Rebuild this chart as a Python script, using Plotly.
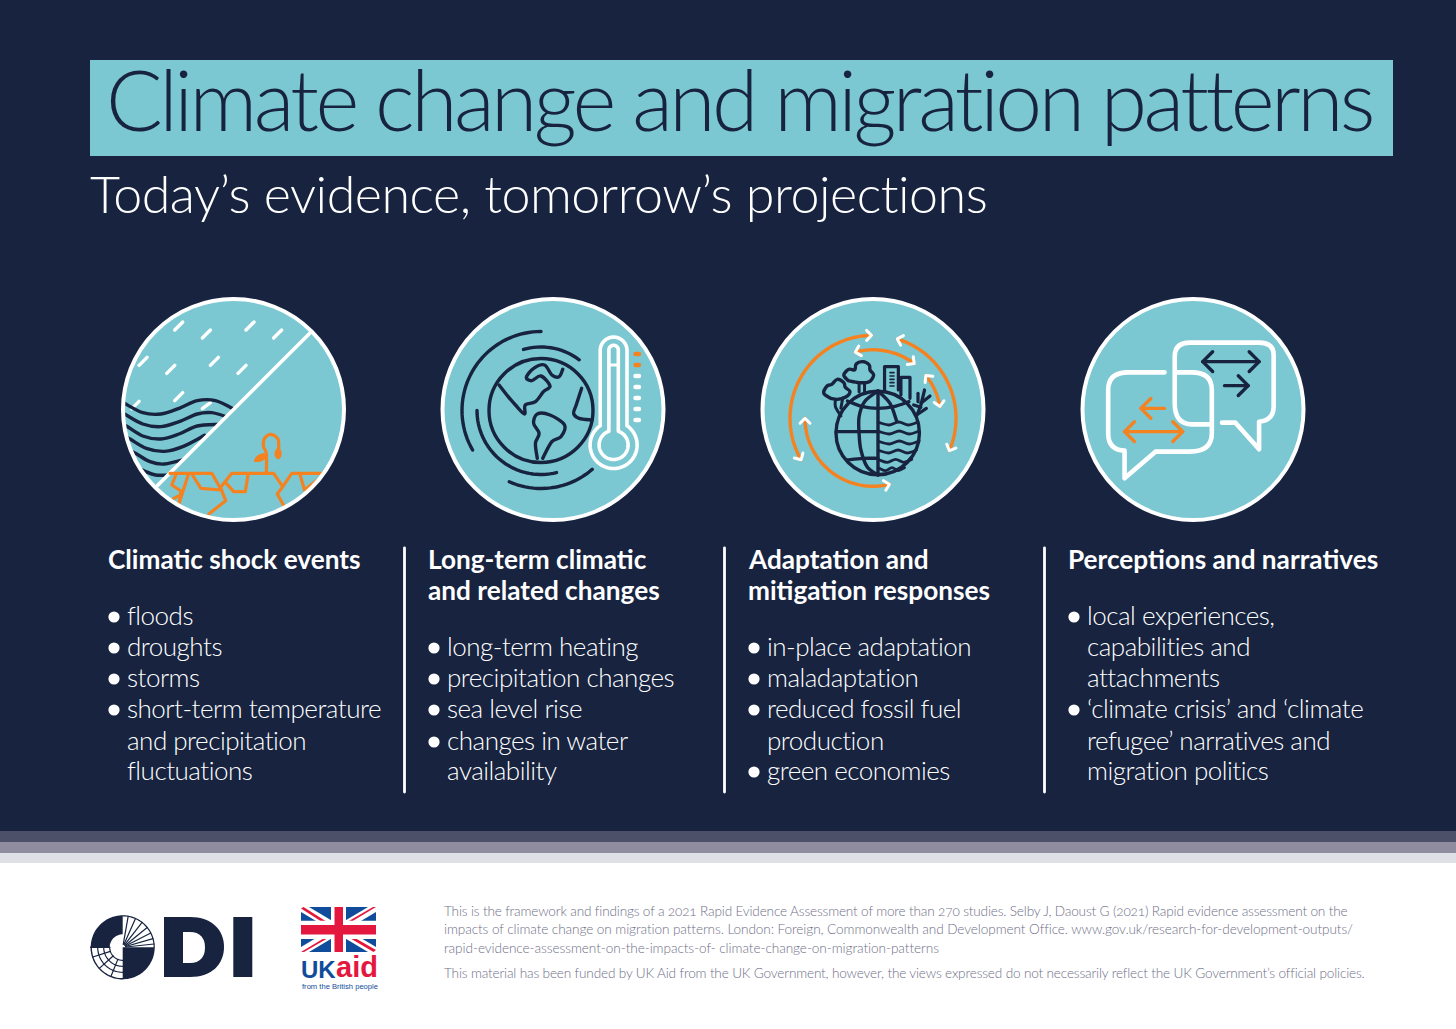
import math
import re

import plotly.graph_objects as go

# Text content
TITLE = "Climate change and migration patterns"
SUBTITLE = "Today’s evidence, tomorrow’s projections"

HEADINGS = [
    ["Climatic shock events"],
    ["Long-term climatic", "and related changes"],
    ["Adaptation and", "mitigation responses"],
    ["Perceptions and narratives"],
]
COLUMN_1 = [["floods"], ["droughts"], ["storms"],
            ["short-term temperature", "and precipitation", "fluctuations"]]
COLUMN_2 = [["long-term heating"], ["precipitation changes"], ["sea level rise"],
            ["changes in water", "availability"]]
COLUMN_3 = [["in-place adaptation"], ["maladaptation"],
            ["reduced fossil fuel", "production"], ["green economies"]]
COLUMN_4 = [["local experiences,", "capabilities and", "attachments"],
            ["‘climate crisis’ and ‘climate", "refugee’ narratives and", "migration politics"]]

FOOTER_LINES = [
    "This is the framework and findings of a 2021 Rapid Evidence Assessment of more than 270 studies. Selby J, Daoust G (2021) Rapid evidence assessment on the",
    "impacts of climate change on migration patterns. London: Foreign, Commonwealth and Development Office. www.gov.uk/research-for-development-outputs/",
    "rapid-evidence-assessment-on-the-impacts-of- climate-change-on-migration-patterns",
    "This material has been funded by UK Aid from the UK Government, however, the views expressed do not necessarily reflect the UK Government’s official policies.",
]

# Colours
NAVY = "#17233f"
TEAL = "#7bc8d2"
ORANGE = "#f58220"
WHITE = "#ffffff"
BANDS = ["#4c5069", "#8e8c9e", "#dfdfe6"]
FOOT_GREY = "#6f7088"
UK_BLUE = "#0f4c9b"
UK_RED = "#e4173e"

FONT = "Lato"
BASE_1 = (110, 290)
BASE_2 = (750, 290)

shapes = []
notes = []


def add_text(x, y, s, size, color, weight=300, family=FONT, anchor="left"):
    notes.append(dict(x=x, y=y, text=s, showarrow=False, xanchor=anchor, yanchor="middle",
                      borderpad=0, font=dict(family=family, size=size, color=color, weight=weight)))


def rect(x0, y0, x1, y1, color):
    shapes.append(dict(type="rect", x0=x0, y0=y0, x1=x1, y1=y1, fillcolor=color, line_width=0))


def circle(cx, cy, r, fill=None, line=None, width=0):
    shapes.append(dict(type="circle", x0=cx - r, y0=cy - r, x1=cx + r, y1=cy + r,
                       fillcolor=fill or "rgba(0,0,0,0)", line=dict(color=line or "rgba(0,0,0,0)", width=width)))


def stroke(path, color, width=3.4, fill=None):
    shapes.append(dict(type="path", path=path, fillcolor=fill or "rgba(0,0,0,0)",
                       line=dict(color=color, width=width)))


def solid(path, color):
    shapes.append(dict(type="path", path=path, fillcolor=color, line_width=0))


def to_real(p, base):
    return p[0] / 2.75 + base[0], p[1] / 3 + base[1]


def zp(spec, base):
    # path written in the coordinates of the zoomed crops
    parts = re.findall(r"[A-Z]|-?[\d.]+", spec)
    out, nums = [], []
    for tok in parts:
        if tok.isalpha():
            out.append(tok)
        else:
            nums.append(float(tok))
            if len(nums) == 2:
                x, y = to_real(nums, base)
                out.append(f"{x:.2f} {y:.2f}")
                nums = []
    return " ".join(out)


def poly(pts, base):
    pts = [to_real(p, base) for p in pts]
    return "M " + " L ".join(f"{x:.2f} {y:.2f}" for x, y in pts)


def curve(pts, base):
    pts = [to_real(p, base) for p in pts]
    d = f"M {pts[0][0]:.2f} {pts[0][1]:.2f}"
    for i in range(len(pts) - 1):
        p0 = pts[max(i - 1, 0)]
        p1, p2 = pts[i], pts[i + 1]
        p3 = pts[min(i + 2, len(pts) - 1)]
        c1 = (p1[0] + (p2[0] - p0[0]) / 6, p1[1] + (p2[1] - p0[1]) / 6)
        c2 = (p2[0] - (p3[0] - p1[0]) / 6, p2[1] - (p3[1] - p1[1]) / 6)
        d += f" C {c1[0]:.2f} {c1[1]:.2f} {c2[0]:.2f} {c2[1]:.2f} {p2[0]:.2f} {p2[1]:.2f}"
    return d


def arc_pts(cx, cy, r, a0, a1):
    n = max(int(abs(a1 - a0) / 3), 2)
    return [(cx + r * math.cos(math.radians(a0 + (a1 - a0) * i / n)),
             cy - r * math.sin(math.radians(a0 + (a1 - a0) * i / n))) for i in range(n + 1)]


def arc(cx, cy, r, a0, a1):
    return "M " + " L ".join(f"{x:.2f} {y:.2f}" for x, y in arc_pts(cx, cy, r, a0, a1))


def real_poly(pts, close=False):
    return "M " + " L ".join(f"{x:.2f} {y:.2f}" for x, y in pts) + (" Z" if close else "")


def chevron(x, y, dx, dy, size, color, width):
    norm = math.hypot(dx, dy)
    dx, dy = dx / norm, dy / norm
    pts = []
    for sign in (1, -1):
        c, s = math.cos(math.radians(135 * sign)), math.sin(math.radians(135 * sign))
        pts.append((x + size * (dx * c - dy * s), y + size * (dx * s + dy * c)))
    stroke(real_poly([pts[0], (x, y), pts[1]]), color, width)


def arc_arrow(cx, cy, r, a0, a1):
    stroke(arc(cx, cy, r, a0, a1), ORANGE, 3.4)
    for a, sign in ((a1, 1 if a1 > a0 else -1), (a0, -1 if a1 > a0 else 1)):
        rad = math.radians(a)
        chevron(cx + r * math.cos(rad), cy - r * math.sin(rad),
                -math.sin(rad) * sign, -math.cos(rad) * sign, 7, WHITE, 3)


def line_arrow(x0, x1, y, color, both, base):
    (a, yy), (b, _) = to_real((x0, y), base), to_real((x1, y), base)
    stroke(f"M {a:.2f} {yy:.2f} L {b:.2f} {yy:.2f}", color, 3.4)
    chevron(b, yy, 1 if x1 > x0 else -1, 0, 14, color, 3.4)
    if both:
        chevron(a, yy, -1 if x1 > x0 else 1, 0, 14, color, 3.4)


# Page background
rect(0, 0, 1456, 1029, WHITE)
rect(0, 0, 1456, 831, NAVY)
rect(0, 831, 1456, 842, BANDS[0])
rect(0, 842, 1456, 853, BANDS[1])
rect(0, 853, 1456, 863, BANDS[2])
rect(90, 60, 1393, 156, TEAL)

CENTERS = [233.5, 553, 873, 1193]
CY = 409.5
for cx in CENTERS:
    circle(cx, CY, 111, fill=TEAL)

# Icon 1: rain, flood and drought
for a, b in [((178, 120), (200, 96)), ((254, 144), (276, 120)), ((374, 120), (396, 96)),
             ((450, 144), (472, 120)), ((80, 226), (102, 202)), ((156, 250), (178, 226)),
             ((276, 226), (298, 202)), ((352, 250), (374, 226)), ((178, 332), (200, 308)),
             ((60, 356), (80, 334)), ((254, 356), (276, 338))]:
    stroke(poly([a, b], BASE_1), WHITE, 3.4)
for wave in [[(20, 325), (40, 340), (90, 368), (140, 372), (190, 355), (240, 332), (290, 332), (345, 360)],
             [(20, 360), (40, 372), (90, 402), (140, 410), (190, 395), (240, 372), (280, 368), (325, 382)],
             [(20, 395), (45, 408), (90, 438), (140, 447), (190, 432), (240, 408), (300, 403)],
             [(30, 432), (55, 447), (100, 475), (150, 484), (200, 470), (260, 436)],
             [(40, 475), (70, 490), (110, 515), (150, 522), (215, 505)],
             [(70, 530), (95, 543), (125, 555), (170, 555)]]:
    stroke(curve(wave, BASE_1), NAVY, 3.4)
half = arc_pts(CENTERS[0], CY, 110, 45, -135)
solid(real_poly(half, close=True), TEAL)
stroke(real_poly([half[0], half[-1]]), WHITE, 3.6)
for crack in [[(165, 550), (280, 550), (305, 598)],
              [(225, 552), (250, 595), (305, 600)],
              [(180, 558), (170, 585), (195, 603), (190, 640)],
              [(215, 555), (190, 640)],
              [(175, 625), (195, 615)],
              [(305, 595), (318, 632), (272, 672)],
              [(300, 598), (335, 550), (450, 550), (475, 590), (460, 612), (477, 645)],
              [(320, 580), (340, 605), (372, 605), (380, 552)],
              [(475, 590), (500, 550), (585, 550)],
              [(522, 552), (535, 600), (570, 570)]]:
    stroke(poly(crack, BASE_1), ORANGE, 3.2)
stroke(curve([(430, 548), (430, 490), (422, 470), (425, 445), (443, 433), (462, 448), (464, 478)], BASE_1), ORANGE, 3.2)
solid(zp("M 463 470 C 478 485 472 505 463 508 C 452 505 446 485 463 470 Z", BASE_1), ORANGE)
solid(zp("M 432 492 C 420 486 400 492 395 515 C 415 520 430 510 432 492 Z", BASE_1), ORANGE)

# Icon 2: globe and thermometer
gx, gy = 541, 410.5
circle(gx, gy, 52, line=NAVY, width=3.4)
stroke(arc(gx, gy, 79, 90, 210), NAVY)
stroke(arc(gx, gy, 63.5, 106, 53), NAVY)
stroke(arc(gx, gy, 64, 180, 284), NAVY)
stroke(arc(gx, gy, 78, 246, 311), NAVY)
for land in [[(1070, 285), (1095, 320), (1115, 345), (1140, 372), (1142, 345), (1170, 335), (1192, 305),
              (1210, 288), (1185, 258), (1160, 272), (1145, 262), (1165, 235), (1195, 225), (1215, 255),
              (1235, 260), (1245, 238)],
             [(1175, 505), (1170, 460), (1180, 430), (1165, 400), (1175, 372), (1210, 375), (1250, 405),
              (1240, 440), (1215, 455), (1190, 505)],
             [(1297, 295), (1282, 345), (1275, 370), (1290, 385), (1325, 390)]]:
    stroke(curve(land, BASE_1), NAVY)

tx, ty = 613.6, 445
outer = arc_pts(tx, 350.5, 13.4, 180, 0) + arc_pts(tx, ty, 23.5, 55.3, -235.3)
inner = arc_pts(tx, 350, 4.7, 180, 0) + arc_pts(tx, ty, 14.5, 71, -251)
stroke(real_poly(outer, close=True), WHITE, 3.6)
stroke(real_poly(inner, close=True), WHITE, 3.6)
stroke(f"M {tx - 4.7} 365 L {tx + 4.7} 365", WHITE, 2.8)
for i, tick_y in enumerate([354, 365, 376, 387, 398, 409, 420]):
    stroke(f"M 635.5 {tick_y} L 639 {tick_y}", ORANGE if i < 2 else WHITE, 4.4)

# Icon 3: cycle of arrows around a globe
ax, ay = 873, 418.3
arc_arrow(ax, ay, 83, 91, 210)
arc_arrow(ax, ay, 83, 73, -23)
arc_arrow(ax, ay, 68, 180, 284)
arc_arrow(ax, ay, 68.5, 105, 53)
arc_arrow(ax, ay, 68, 39, 10)

circle(877.7, 433, 41.7, line=NAVY, width=3.4)
stroke(poly([(352, 303), (352, 555)], BASE_2), NAVY)
stroke(poly([(237, 425), (352, 425)], BASE_2), NAVY)
stroke(curve([(268, 333), (310, 350), (352, 355), (395, 350), (437, 335)], BASE_2), NAVY)
stroke(curve([(268, 510), (310, 505), (352, 505)], BASE_2), NAVY)
stroke(curve([(352, 303), (315, 335), (300, 380), (300, 430), (305, 480), (322, 530), (352, 555)], BASE_2), NAVY)
stroke(curve([(352, 303), (385, 340), (403, 392)], BASE_2), NAVY)
for wy, x_end in zip([398, 425, 455, 482, 510, 535], [462, 465, 465, 458, 445, 425]):
    step = (x_end - 356) / 4
    stroke(curve([(356, wy), (356 + step, wy + 7), (356 + 2 * step, wy - 2),
                  (356 + 3 * step, wy + 7), (x_end, wy - 2)], BASE_2), NAVY, 2.8)
stroke(curve([(222, 325), (203, 310), (212, 288), (225, 283), (240, 268), (258, 278), (262, 292),
              (275, 305), (262, 322), (240, 328), (222, 325)], BASE_2), NAVY)
stroke(curve([(235, 328), (235, 350), (250, 378)], BASE_2), NAVY, 3)
stroke(poly([(255, 324), (250, 355)], BASE_2), NAVY, 3)
stroke(curve([(270, 272), (258, 255), (272, 238), (288, 240), (292, 222), (310, 215), (328, 225),
              (330, 240), (340, 255), (328, 275), (300, 278), (270, 272)], BASE_2), NAVY)
stroke(poly([(300, 278), (300, 305)], BASE_2), NAVY, 3)
stroke(poly([(315, 278), (315, 310)], BASE_2), NAVY, 3)
stroke(poly([(370, 300), (370, 230), (408, 230), (408, 300)], BASE_2), NAVY, 3.2)
stroke(poly([(415, 315), (415, 262), (440, 262), (440, 325)], BASE_2), NAVY, 3.2)
for by in [248, 258, 268, 278, 288]:
    stroke(poly([(385, by), (396, by)], BASE_2), NAVY, 1.6)
stroke(poly([(458, 378), (470, 345), (480, 300)], BASE_2), NAVY, 3.2)
stroke(poly([(450, 345), (470, 352)], BASE_2), NAVY, 3.2)
stroke(poly([(470, 340), (495, 318)], BASE_2), NAVY, 3.2)
stroke(poly([(458, 375), (485, 355)], BASE_2), NAVY, 3.2)
stroke(poly([(462, 310), (462, 335)], BASE_2), NAVY, 3.2)

# Icon 4: speech bubbles
stroke(zp("M 1140 247 L 1040 247 Q 985 247 985 300 L 985 430 Q 985 480 1030 482 L 1030 565 L 1115 485 "
          "L 1210 485 Q 1270 485 1270 430 L 1270 300 Q 1270 247 1215 247 L 1170 247", BASE_2), WHITE, 4.6)
stroke(zp("M 1298 398 L 1335 398 L 1400 478 L 1400 395 Q 1440 390 1440 350 L 1440 195 Q 1440 158 1400 158 "
          "L 1210 158 Q 1168 158 1168 200 L 1168 340 Q 1168 403 1215 403 L 1265 403", BASE_2), WHITE, 4.6)
line_arrow(1245, 1400, 215, NAVY, True, BASE_2)
line_arrow(1305, 1370, 287, NAVY, False, BASE_2)
line_arrow(1030, 1190, 425, ORANGE, True, BASE_2)
line_arrow(1140, 1075, 355, ORANGE, False, BASE_2)

# Mask anything past the circle edge, then the white ring
for cx in CENTERS:
    circle(cx, CY, 118, line=NAVY, width=12)
    circle(cx, CY, 110.5, line=WHITE, width=4)

# Dividers
for x in [404.5, 724.5, 1044.5]:
    shapes.append(dict(type="line", x0=x, x1=x, y0=548, y1=792, line=dict(color=WHITE, width=2.8)))

# Headings and bullet lists
add_text(105, 98, TITLE, 84, NAVY)
add_text(89, 193, SUBTITLE, 52, WHITE)

HEAD_Y = [559, 590]
ROW_Y = [615, 646, 677, 708, 740, 770]
COLUMN_X = [107, 427, 747, 1067]
for col_x, head, items in zip(COLUMN_X, HEADINGS, [COLUMN_1, COLUMN_2, COLUMN_3, COLUMN_4]):
    for y, line in zip(HEAD_Y, head):
        add_text(col_x, y, line, 26.2, WHITE, weight=700)
    row = len(head) - 1
    for item in items:
        circle(col_x + 7, ROW_Y[row] + 2, 5.6, fill=WHITE)
        for line in item:
            add_text(col_x + 19, ROW_Y[row], line, 26, WHITE)
            row += 1

# ODI logo
lx, ly = 122.7, 947.3
solid(real_poly(arc_pts(lx, ly, 32, 90, 180) + arc_pts(lx, ly, 13, 180, 90), close=True), NAVY)
solid(real_poly([(lx, ly)] + arc_pts(lx, ly, 32, 0, -90), close=True), NAVY)
stroke(arc(lx, ly, 31.5, 0, 90), NAVY, 1.2)
stroke(arc(lx, ly, 31.5, 180, 270), NAVY, 1.4)
for a in [6, 16, 27, 39, 52, 66, 80]:
    rad = math.radians(a)
    stroke(real_poly([(lx + 3 * math.cos(rad), ly - 3 * math.sin(rad)),
                      (lx + 31.5 * math.cos(rad), ly - 31.5 * math.sin(rad))]), NAVY, 1.2)
for r in [13, 19, 25]:
    stroke(arc(lx, ly, r, 180, 270), NAVY, 1.2)
for a in [198, 222, 248]:
    rad = math.radians(a)
    stroke(real_poly([(lx + 13 * math.cos(rad), ly - 13 * math.sin(rad)),
                      (lx + 31.5 * math.cos(rad), ly - 31.5 * math.sin(rad))]), NAVY, 1.2)
stroke(f"M {lx - 32} {ly} L {lx - 13} {ly}", NAVY, 1.4)
solid("M 164 917 L 190 917 C 212 917 224 930 224 947 C 224 964 212 977 190 977 L 164 977 Z", NAVY)
solid("M 183 932 L 190 932 C 200 932 205 938 205 947.5 C 205 957 200 963 190 963 L 183 963 Z", WHITE)
rect(233.3, 917, 252.3, 977, NAVY)

# UK aid flag
fx0, fy0, fx1, fy1 = 301, 907, 376, 952
rect(fx0, fy0, fx1, fy1, UK_BLUE)
for pts in [[(fx0, fy0), (fx0 + 8, fy0), (fx1, fy1 - 5), (fx1, fy1), (fx1 - 8, fy1), (fx0, fy0 + 5)],
            [(fx1, fy0), (fx1 - 8, fy0), (fx0, fy1 - 5), (fx0, fy1), (fx0 + 8, fy1), (fx1, fy0 + 5)]]:
    solid(real_poly(pts, close=True), WHITE)
for pts in [[(fx0, fy0 + 1.5), (fx0 + 2.5, fy0), (335, 927), (330, 927)],
            [(342, 925), (346, 925), (fx1, fy0), (fx1 - 3, fy0)],
            [(343, 934), (348, 934), (fx1, fy1 - 2), (fx1 - 2.5, fy1)],
            [(331, 934), (335, 934), (fx0 + 3, fy1), (fx0, fy1)]]:
    solid(real_poly(pts, close=True), UK_RED)
rect(331, fy0, 346, fy1, WHITE)
rect(fx0, 920.7, fx1, 939, WHITE)
rect(334.5, fy0, 343, fy1, UK_RED)
rect(fx0, 925, fx1, 934.5, UK_RED)
add_text(300, 969, "UK", 24, UK_BLUE, weight=700, family="Liberation Sans")
add_text(334.5, 967, "aid", 29, UK_RED, weight=700, family="Liberation Sans")
add_text(301, 986, "from the British people", 7.6, UK_BLUE, weight=400, family="Liberation Sans")

# Footer
for y, line in zip([910.5, 929, 947.5, 973], FOOTER_LINES):
    add_text(443, y, line, 13.6, FOOT_GREY)

fig = go.Figure()
fig.update_layout(
    width=1456, height=1029, margin=dict(l=0, r=0, t=0, b=0),
    paper_bgcolor=WHITE, plot_bgcolor=WHITE, showlegend=False,
    xaxis=dict(range=[0, 1456], visible=False, fixedrange=True),
    yaxis=dict(range=[1029, 0], visible=False, fixedrange=True),
    shapes=shapes, annotations=notes,
)

# Tracking per font size, the original face is set tighter than Lato.
# The texts are centred in their boxes, so move them back to the left edge.
POST = """
document.body.style.margin = '0';
document.querySelectorAll('.shapelayer path').forEach(function (p) {
    p.style.strokeLinecap = 'round';
    p.style.strokeLinejoin = 'round';
});
var tracking = {84: -3.5, 52: -0.5, 26: -0.5, 13.6: -0.165};
document.querySelectorAll('.annotation-text').forEach(function (t) {
    var size = parseFloat(t.style.fontSize);
    if (tracking[size] !== undefined) {
        var space = tracking[size];
        if (t.textContent.indexOf('impacts of climate') === 0) { space = -0.085; }
        if (t.textContent.indexOf('rapid-evidence') === 0) { space = -0.065; }
        var before = t.getBBox().x;
        t.style.letterSpacing = space + 'px';
        t.style.fontFeatureSettings = '"onum"';
        var after = t.getBBox().x;
        t.setAttribute('x', parseFloat(t.getAttribute('x')) - (after - before));
    }
});
"""
fig.write_html("out.html", post_script=POST, config=dict(displayModeBar=False))
